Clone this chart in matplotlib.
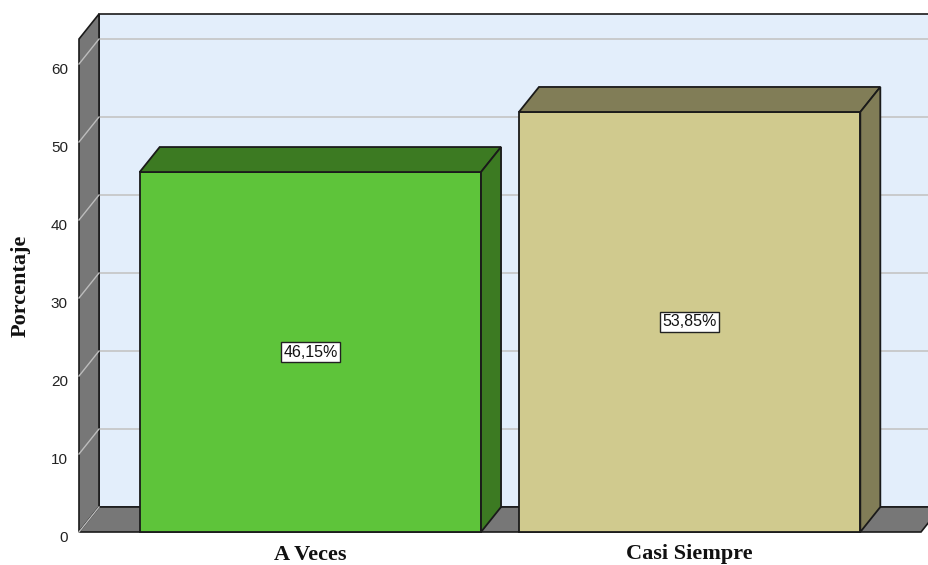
import matplotlib
matplotlib.use("Agg")
import matplotlib.pyplot as plt
from matplotlib.patches import Polygon, Rectangle
from matplotlib.transforms import ScaledTranslation

categories = ["A Veces", "Casi Siempre"]
values = [46.15, 53.85]
labels = ["46,15%", "53,85%"]
yticks = [0, 10, 20, 30, 40, 50, 60]

front_colors = ["#5EC43A", "#D0CA8E"]
dark_colors = ["#3C7A22", "#817D57"]

W, H = 929, 565
fig = plt.figure(figsize=(W / 100, H / 100), dpi=100)
fig.patch.set_facecolor("white")

# front plane in pixels
px_left, px_right, px_bottom, px_top = 79, 921, 532, 39
ax = fig.add_axes([px_left / W, (H - px_bottom) / H,
                   (px_right - px_left) / W, (px_bottom - px_top) / H])
ax.set_facecolor("none")

x0, x1 = -0.61, 1.61
ppy = 7.8  # pixels per unit
ymax = (px_bottom - px_top) / ppy
ax.set_xlim(x0, x1)
ax.set_ylim(0, ymax)
ppx = (px_right - px_left) / (x1 - x0)
dx = 20 / ppx
dy = 25 / ppy
bw = 0.9

edge = "#1a1a1a"

# back wall
ax.add_patch(Rectangle((x0 + dx, dy), (x1 - x0) + 0.2, ymax, facecolor="#E3EEFB",
                       edgecolor=edge, lw=1.2, clip_on=False, zorder=1))
# back wall gridlines
for t in yticks[1:]:
    ax.plot([x0 + dx, x1 + dx + 0.2], [t + dy, t + dy], color="#c4c4c4", lw=1.2,
            clip_on=False, zorder=2)
# side wall
ax.add_patch(Polygon([(x0, 0), (x0 + dx, dy), (x0 + dx, ymax + dy), (x0, ymax)],
                     closed=True, facecolor="#777777", edgecolor=edge, lw=1.2,
                     clip_on=False, zorder=3))
for t in yticks:
    ax.plot([x0, x0 + dx], [t, t + dy], color="#bdbdbd", lw=1.0, clip_on=False, zorder=4)
# floor
ax.add_patch(Polygon([(x0, 0), (x1, 0), (x1 + dx, dy), (x0 + dx, dy)],
                     closed=True, facecolor="#777777", edgecolor=edge, lw=1.2,
                     clip_on=False, zorder=3))

# bars
for i, v in enumerate(values):
    l, r = i - bw / 2, i + bw / 2
    ax.add_patch(Rectangle((l, 0), bw, v, facecolor=front_colors[i], edgecolor=edge,
                           lw=1.3, clip_on=False, zorder=6))
    ax.add_patch(Polygon([(l, v), (l + dx, v + dy), (r + dx, v + dy), (r, v)],
                         closed=True, facecolor=dark_colors[i], edgecolor=edge, lw=1.3,
                         clip_on=False, zorder=6))
    ax.add_patch(Polygon([(r, 0), (r + dx, dy), (r + dx, v + dy), (r, v)],
                         closed=True, facecolor=dark_colors[i], edgecolor=edge, lw=1.3,
                         clip_on=False, zorder=6))
    ax.text(i, v / 2, labels[i], ha="center", va="center", fontsize=11.5,
            family="Liberation Sans", color="#111111", zorder=8,
            bbox=dict(boxstyle="square,pad=0.15", facecolor="white", edgecolor="#222222", lw=1))

for s in ax.spines.values():
    s.set_visible(False)

ax.set_yticks(yticks)
ax.set_yticklabels([str(t) for t in yticks], family="Liberation Sans", fontsize=11,
                   color="#222222")
ax.tick_params(axis="y", length=0, pad=8)
shift = ScaledTranslation(0, -4 / 100, fig.dpi_scale_trans)
for lab in ax.get_yticklabels():
    lab.set_transform(lab.get_transform() + shift)
ax.set_xticks(range(len(categories)))
ax.set_xticklabels(categories, family="Liberation Serif", fontweight="bold",
                   fontsize=16, color="#111111")
ax.tick_params(axis="x", length=0, pad=9)
ax.set_ylabel("Porcentaje", family="Liberation Serif", fontweight="bold", fontsize=16,
              color="#111111")
ax.yaxis.set_label_coords(-0.058, 0.5)

fig.savefig("out.png", dpi=100)
